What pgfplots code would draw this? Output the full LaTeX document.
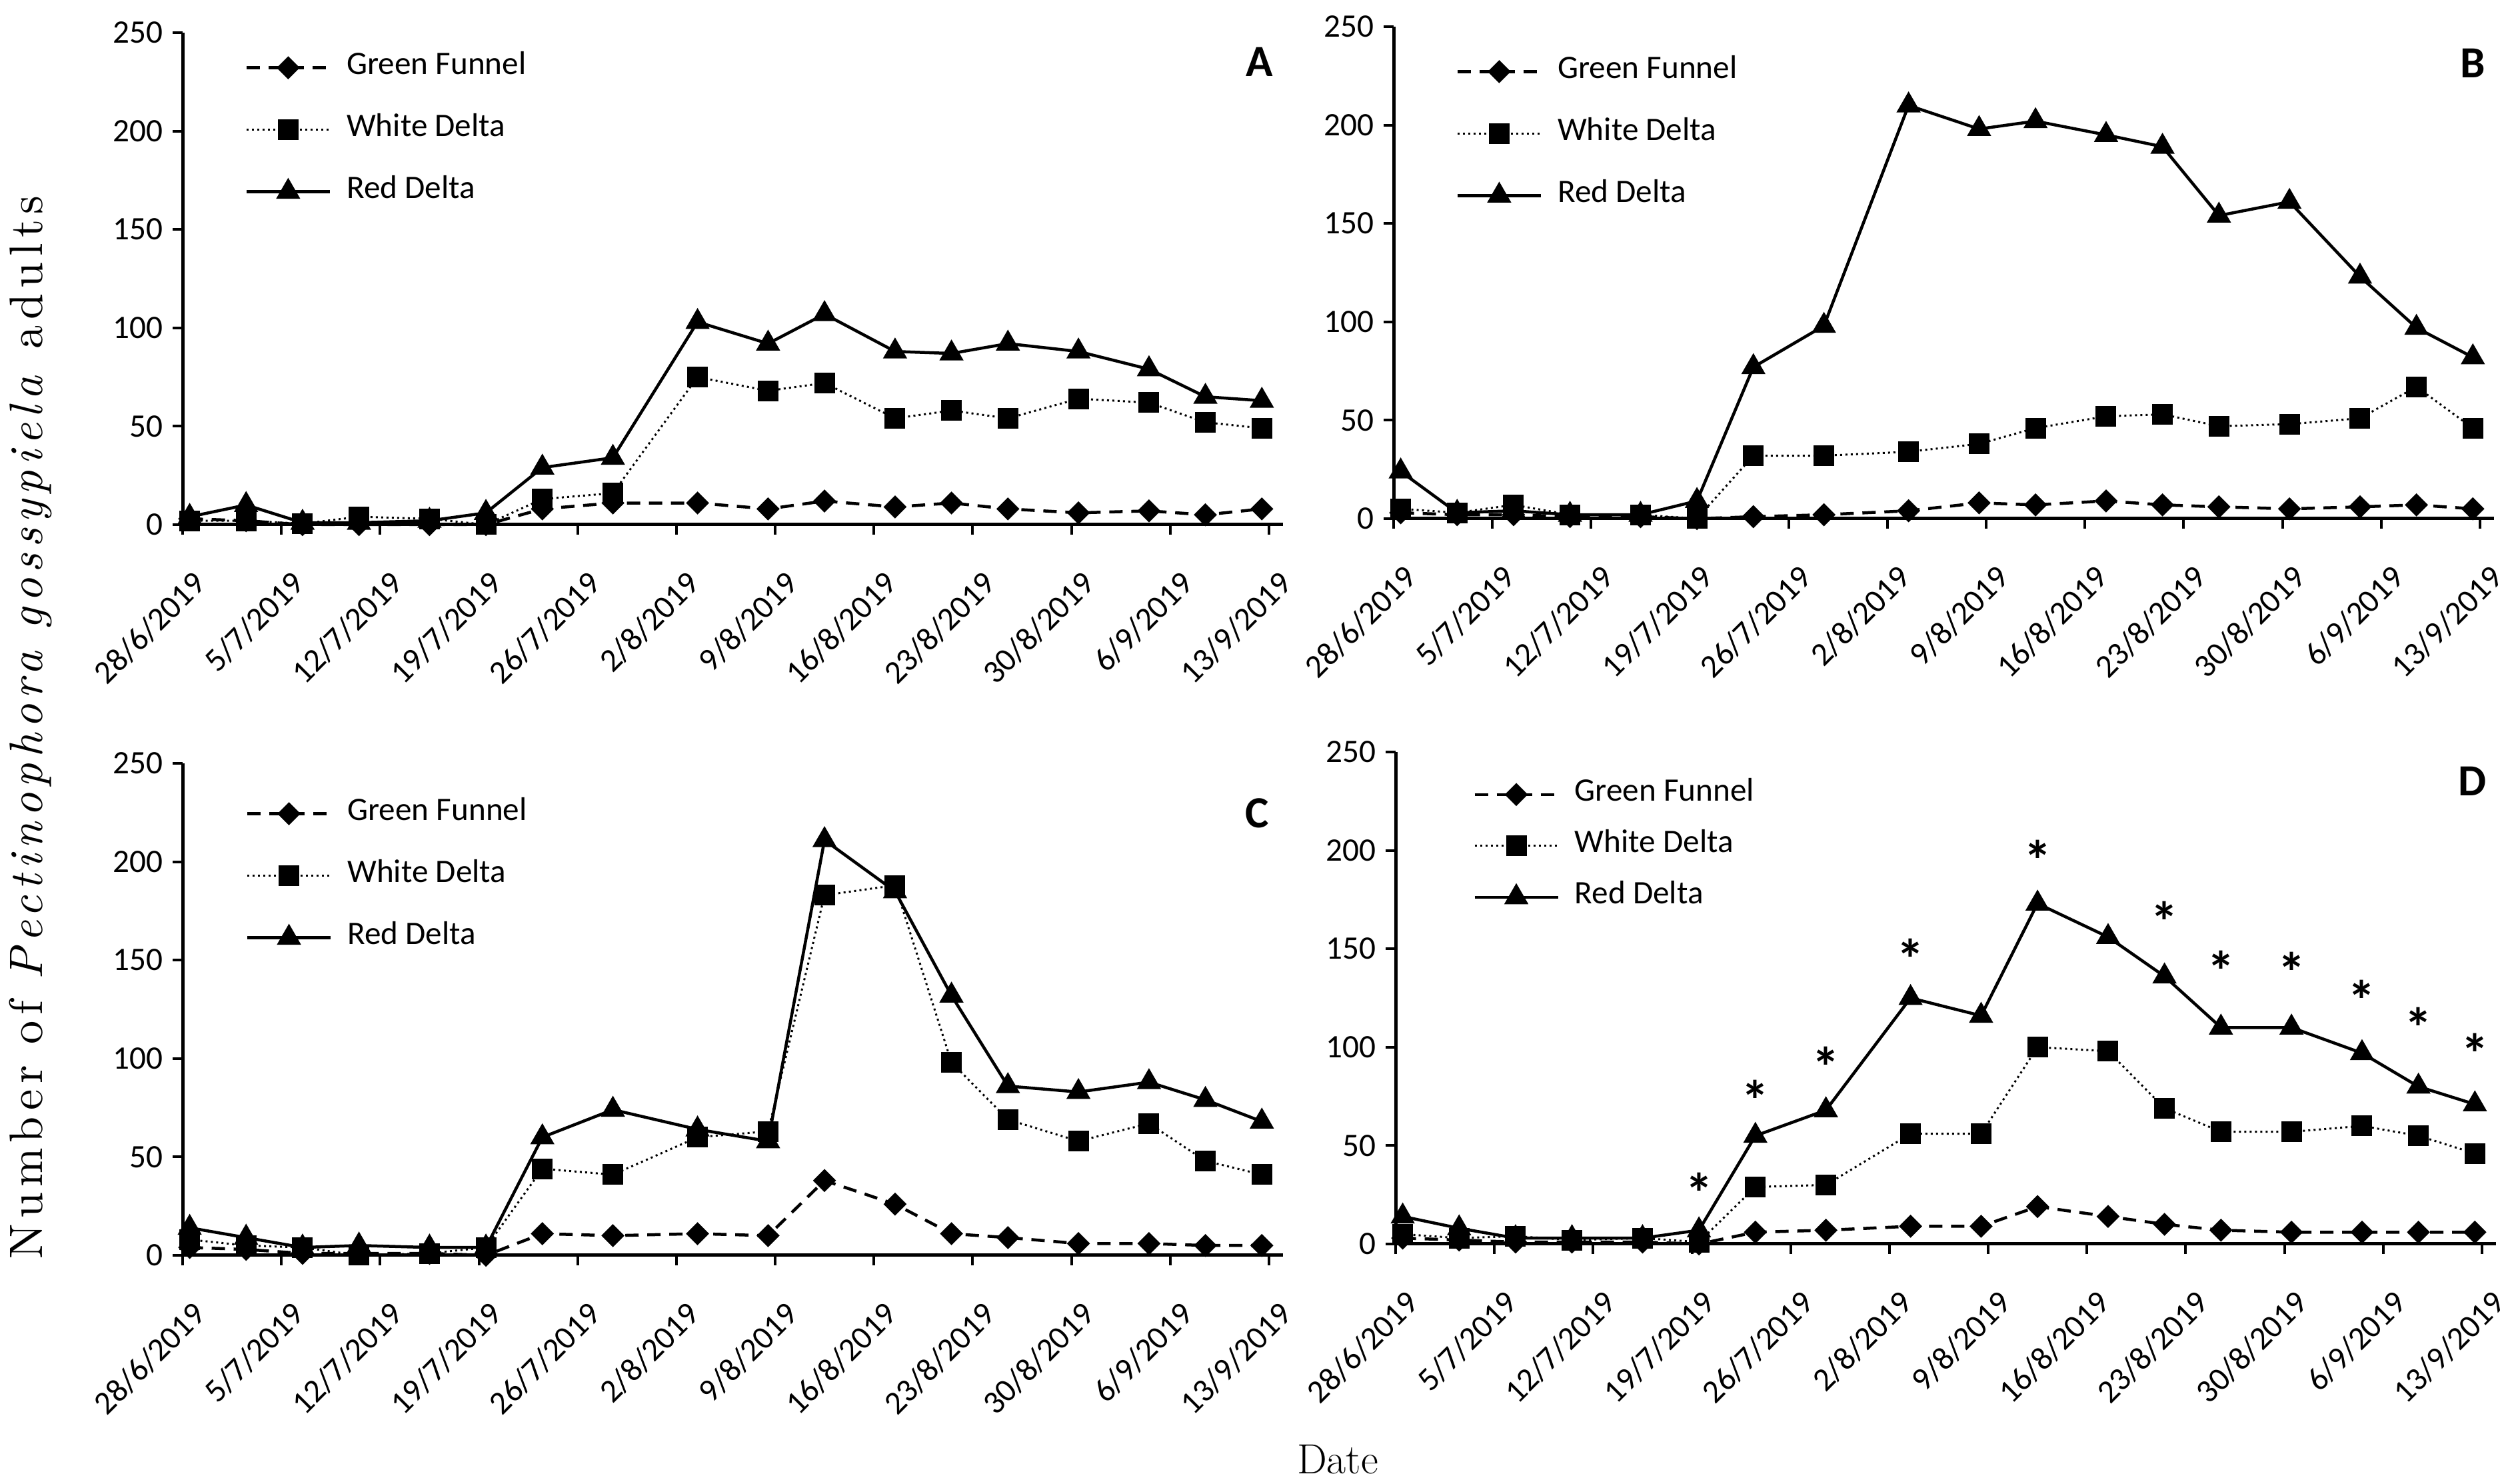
\documentclass[border=0pt]{standalone}
\usepackage{fontspec}
\usepackage{pgfplots}
\usepackage{pgfplotstable}
\pgfplotsset{compat=1.18}

\newfontfamily\carlito{Carlito}
\newfontfamily\ylabfont{lmroman10-regular.otf}[ItalicFont=lmroman10-italic.otf, LetterSpace=12]
\newcommand\tickfont{\carlito\fontsize{14}{16}\selectfont}
\newcommand\panelfont{\carlito\bfseries\fontsize{19}{21}\selectfont}

% trap counts, x = days after 28/6/2019 (+0.5, Excel date axis)
\pgfplotstableread{
x    gf  wd   rd
0.5  3   2    4
4.5  2   2    10
8.5  0   0.5  1
12.5 0   4    1
17.5 0   3    2
21.5 0   0    6
25.5 8   13   29
30.5 11  16   34
36.5 11  75   103
41.5 8   68   92
45.5 12  72   107
50.5 9   54   88
54.5 11  58   87
58.5 8   54   92
63.5 6   64   88
68.5 7   62   79
72.5 5   52   65
76.5 8   49   63
}\dataA
\pgfplotstableread{
x    gf  wd   rd
0.5  3   5    24
4.5  2   3    3
8.5  2   7    4
12.5 1   2    2
17.5 1   2    2
21.5 0   0    9
25.5 1   32   77
30.5 2   32   98
36.5 4   34   210
41.5 8   38   198
45.5 7   46   202
50.5 9   52   195
54.5 7   53   189
58.5 6   47   154
63.5 5   48   161
68.5 6   51   123
72.5 7   67   97
76.5 5   46   82
}\dataB
\pgfplotstableread{
x    gf  wd   rd
0.5  4   8    14
4.5  3   5    9
8.5  1   4    4
12.5 1   0    5
17.5 1   1    4
21.5 0   4    4
25.5 11  44   60
30.5 10  41   74
36.5 11  60   64
41.5 10  63   58
45.5 38  183  211
50.5 26  188  185
54.5 11  98   132
58.5 9   69   86
63.5 6   58   83
68.5 6   67   88
72.5 5   48   79
76.5 5   41   68
}\dataC
\pgfplotstableread{
x    gf  wd   rd
0.5  3   5    14
4.5  2   3    8
8.5  1   4    3
12.5 1   2    3
17.5 1   3    3
21.5 0   1    7
25.5 6   29   55
30.5 7   30   68
36.5 9   56   125
41.5 9   56   116
45.5 19  100  173
50.5 14  98   156
54.5 10  69   136
58.5 7   57   110
63.5 6   57   110
68.5 6   60   97
72.5 6   55   80
76.5 6   46   71
}\dataD
\pgfplotstableread{
x    y
21.5 34
25.5 81
30.5 98
36.5 153
45.5 203
54.5 172
58.5 147
63.5 146
68.5 132
72.5 118
76.5 105
}\starsD

\pgfplotsset{
  legend image code/.code={\draw[mark repeat=2,mark phase=2,#1] plot coordinates {(0mm,0mm)(6.25mm,0mm)(12.5mm,0mm)};},
  panel/.style={
    scale only axis, width=165.1mm, height=73.8mm,
    xmin=0, xmax=78, ymin=0, ymax=250,
    axis x line=bottom, axis y line=left,
    axis line style={-, line width=0.5mm},
    clip=false,
    xtick={0,7,...,77},
    xticklabels={28/6/2019,5/7/2019,12/7/2019,19/7/2019,26/7/2019,2/8/2019,9/8/2019,16/8/2019,23/8/2019,30/8/2019,6/9/2019,13/9/2019},
    ytick={0,50,...,250},
    yticklabels={0,50,100,150,200,250},
    tick align=outside, major tick length=1.5mm,
    tick style={line width=0.4mm, black},
    xticklabel style={font=\tickfont, xshift=1.3mm, yshift=-5.1mm, rotate=45,
      anchor=north east, inner sep=0pt},
    yticklabel style={font=\tickfont, inner sep=1.4mm},
    legend style={draw=none, fill=none, font=\tickfont, inner sep=0pt,
      nodes={inner sep=0pt, text height=3.1mm, text depth=1.1mm},
      /tikz/every odd column/.append style={column sep=2.3mm}},
    legend cell align=left,
  },
  gf/.style={black, line width=0.45mm, dash pattern=on 2mm off 1.3mm,
    mark=square*, mark size=1mm, mark options={solid, rotate=45}},
  wd/.style={black, line width=0.3mm, dash pattern=on 0.3mm off 0.5mm,
    mark=square*, mark size=1.4mm, mark options={solid}},
  rd/.style={black, line width=0.45mm, solid,
    mark=triangle*, mark size=1.65mm, mark options={solid}},
}

\begin{document}
\begin{tikzpicture}
\path[use as bounding box] (0,0) rectangle (378.1mm,222mm);

% A
\begin{axis}[panel, at={(27.4mm,143.3mm)}, anchor=south west,
  legend style={at={(axis description cs:0.0563,0.958)}, anchor=north west, row sep=5.1mm}]
\addplot[gf] table[x=x, y=gf] {\dataA};
\addlegendentry{Green Funnel}
\addplot[wd] table[x=x, y=wd] {\dataA};
\addlegendentry{White Delta}
\addplot[rd] table[x=x, y=rd] {\dataA};
\addlegendentry{Red Delta}
\end{axis}

% B
\begin{axis}[panel, at={(209.1mm,144.2mm)}, anchor=south west,
  legend style={at={(axis description cs:0.0563,0.938)}, anchor=north west, row sep=5.1mm}]
\addplot[gf] table[x=x, y=gf] {\dataB};
\addlegendentry{Green Funnel}
\addplot[wd] table[x=x, y=wd] {\dataB};
\addlegendentry{White Delta}
\addplot[rd] table[x=x, y=rd] {\dataB};
\addlegendentry{Red Delta}
\end{axis}

% C
\begin{axis}[panel, at={(27.4mm,33.7mm)}, anchor=south west,
  legend style={at={(axis description cs:0.057,0.927)}, anchor=north west, row sep=5.1mm}]
\addplot[gf] table[x=x, y=gf] {\dataC};
\addlegendentry{Green Funnel}
\addplot[wd] table[x=x, y=wd] {\dataC};
\addlegendentry{White Delta}
\addplot[rd] table[x=x, y=rd] {\dataC};
\addlegendentry{Red Delta}
\end{axis}

% D
\begin{axis}[panel, at={(209.4mm,35.4mm)}, anchor=south west,
  legend style={at={(axis description cs:0.070,0.943)}, anchor=north west, row sep=3.5mm}]
\addplot[gf] table[x=x, y=gf] {\dataD};
\addlegendentry{Green Funnel}
\addplot[wd] table[x=x, y=wd] {\dataD};
\addlegendentry{White Delta}
\addplot[rd] table[x=x, y=rd] {\dataD};
\addlegendentry{Red Delta}
\addplot[only marks, mark=text, text mark as node=true,
  text mark={\carlito\bfseries\fontsize{24}{24}\selectfont *},
  text mark style={inner sep=0pt, anchor=base, yshift=-5.4mm}, forget plot]
  table[x=x, y=y] {\starsD};
\end{axis}

\node[font=\panelfont] at (188.6mm,100.0mm) {C};
\node[font=\panelfont] at (189.0mm,212.7mm) {A};
\node[font=\panelfont] at (371.0mm,212.5mm) {B};
\node[font=\panelfont] at (371.0mm,104.8mm) {D};

\node[rotate=90, font=\ylabfont\fontsize{20}{22}\selectfont]
  at (4.6mm,112.9mm) {Number of \textit{Pectinophora gossypiela} adults};
\node[font=\fontsize{18}{20}\selectfont] at (200.7mm,3.1mm) {Date};
\end{tikzpicture}
\end{document}
